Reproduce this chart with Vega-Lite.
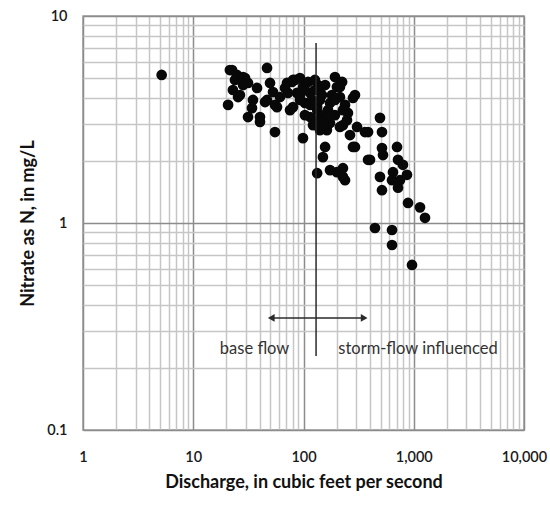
{
  "$schema": "https://vega.github.io/schema/vega-lite/v6.json",
  "width": 441,
  "height": 414,
  "autosize": {"type": "none"},
  "padding": {"left": 83, "top": 16, "right": 26, "bottom": 75},
  "background": "white",
  "config": {"view": {"stroke": "#9a9a9a", "strokeWidth": 1.5}, "font": "Lato"},
  "encoding": {
    "x": {
      "field": "Q", "type": "quantitative",
      "scale": {"type": "log", "domain": [1, 10000], "nice": false},
      "axis": {
        "title": "Discharge, in cubic feet per second",
        "values": [1,2,3,4,5,6,7,8,9,10,20,30,40,50,60,70,80,90,100,200,300,400,500,600,700,800,900,1000,2000,3000,4000,5000,6000,7000,8000,9000,10000],
        "format": ",",
        "labelExpr": "indexof([1,10,100,1000,10000], datum.value) >= 0 ? datum.label : ''",
        "grid": true, "ticks": false, "domain": false,
        "labelOverlap": false, "labelFlush": false, "labelBound": false,
        "labelPadding": 20, "labelFont": "Lato", "labelFontSize": 14.5, "labelFontWeight": 600, "labelColor": "#1a1a1a",
        "titleFont": "Lato", "titleFontSize": 18, "titleFontWeight": "bold", "titleColor": "#111", "titlePadding": 10,
        "gridColor": {"condition": {"test": "indexof([1,10,100,1000,10000], datum.value) >= 0", "value": "#8c8c8c"}, "value": "#c6c6c6"},
        "gridWidth": 1.5
      }
    },
    "y": {
      "field": "N", "type": "quantitative",
      "scale": {"type": "log", "domain": [0.1, 10], "nice": false},
      "axis": {
        "title": "Nitrate as N, in mg/L",
        "values": [0.1,0.2,0.3,0.4,0.5,0.6,0.7,0.8,0.9,1,2,3,4,5,6,7,8,9,10],
        "labelExpr": "datum.value == 0.1 ? '0.1' : datum.value == 1 ? '1' : datum.value == 10 ? '10' : ''",
        "grid": true, "ticks": false, "domain": false,
        "labelOverlap": false, "labelFlush": false, "labelBound": false,
        "labelPadding": 16, "labelFont": "Lato", "labelFontSize": 14.5, "labelFontWeight": 600, "labelColor": "#1a1a1a",
        "titleFont": "Lato", "titleFontSize": 18, "titleFontWeight": "bold", "titleColor": "#111", "titlePadding": 9,
        "gridColor": {"condition": {"test": "datum.value == 0.1 || datum.value == 1 || datum.value == 10", "value": "#8c8c8c"}, "value": "#c6c6c6"},
        "gridWidth": 1.5
      }
    }
  },
  "layer": [
    {
      "data": {"values": [
        {"Q": 5.17, "N": 5.19},
        {"Q": 21.5, "N": 5.48}, {"Q": 24.9, "N": 5.19}, {"Q": 28.3, "N": 5.07}, {"Q": 20.7, "N": 3.72},
        {"Q": 22.9, "N": 4.39}, {"Q": 26.5, "N": 4.15}, {"Q": 31.4, "N": 4.75}, {"Q": 37.9, "N": 4.49},
        {"Q": 34.8, "N": 3.93}, {"Q": 31.4, "N": 3.25}, {"Q": 40.3, "N": 3.08}, {"Q": 46.7, "N": 5.61},
        {"Q": 49.7, "N": 4.75}, {"Q": 46.7, "N": 3.93}, {"Q": 55.1, "N": 2.75}, {"Q": 57.5, "N": 3.63},
        {"Q": 75.5, "N": 3.51}, {"Q": 70.8, "N": 4.75}, {"Q": 80.3, "N": 4.91}, {"Q": 92.9, "N": 5.01},
        {"Q": 98.9, "N": 4.54}, {"Q": 87.3, "N": 4.25}, {"Q": 98.9, "N": 2.57}, {"Q": 110, "N": 4.8},
        {"Q": 115, "N": 4.25}, {"Q": 103, "N": 3.8}, {"Q": 127, "N": 4.39}, {"Q": 133, "N": 3.63},
        {"Q": 147, "N": 4.15}, {"Q": 150, "N": 3.25}, {"Q": 163, "N": 2.81}, {"Q": 174, "N": 3.8},
        {"Q": 193, "N": 5.07}, {"Q": 201, "N": 4.54}, {"Q": 214, "N": 4.06}, {"Q": 228, "N": 3.51},
        {"Q": 248, "N": 3.14}, {"Q": 281, "N": 4.02}, {"Q": 306, "N": 2.91}, {"Q": 224, "N": 4.8},
        {"Q": 281, "N": 2.33}, {"Q": 385, "N": 2.75}, {"Q": 494, "N": 3.22}, {"Q": 515, "N": 2.75},
        {"Q": 515, "N": 2.3}, {"Q": 401, "N": 2.02}, {"Q": 157, "N": 2.33}, {"Q": 150, "N": 2.08},
        {"Q": 133, "N": 1.74}, {"Q": 174, "N": 1.8}, {"Q": 201, "N": 1.76}, {"Q": 228, "N": 1.84},
        {"Q": 228, "N": 1.67}, {"Q": 494, "N": 1.67}, {"Q": 515, "N": 1.44}, {"Q": 238, "N": 1.61},
        {"Q": 293, "N": 2.33}, {"Q": 385, "N": 2.02}, {"Q": 526, "N": 2.13}, {"Q": 705, "N": 2.33},
        {"Q": 720, "N": 2.02}, {"Q": 798, "N": 1.91}, {"Q": 648, "N": 1.76}, {"Q": 635, "N": 1.61},
        {"Q": 750, "N": 1.61}, {"Q": 720, "N": 1.48}, {"Q": 868, "N": 1.71}, {"Q": 887, "N": 1.25},
        {"Q": 1140, "N": 1.19}, {"Q": 1265, "N": 1.06}, {"Q": 445, "N": 0.946}, {"Q": 635, "N": 0.925},
        {"Q": 635, "N": 0.783}, {"Q": 964, "N": 0.627},
        {"Q": 83.7, "N": 4.91}, {"Q": 80.3, "N": 3.63}, {"Q": 141, "N": 4.39}, {"Q": 133, "N": 3.51},
        {"Q": 163, "N": 3.4}, {"Q": 174, "N": 3.04}, {"Q": 214, "N": 2.91}, {"Q": 214, "N": 4.54},
        {"Q": 253, "N": 3.4}, {"Q": 293, "N": 4.15}, {"Q": 361, "N": 2.75}, {"Q": 115, "N": 3.25},
        {"Q": 150, "N": 2.91}, {"Q": 25.5, "N": 4.06}, {"Q": 34.1, "N": 3.59}, {"Q": 40.3, "N": 3.25},
        {"Q": 52.9, "N": 4.29}, {"Q": 44.8, "N": 3.84}, {"Q": 55.1, "N": 3.72}, {"Q": 61.2, "N": 4.06},
        {"Q": 78.6, "N": 4.8}, {"Q": 72.3, "N": 4.25}, {"Q": 28.3, "N": 4.64}, {"Q": 23.9, "N": 4.91},
        {"Q": 119, "N": 3.93}, {"Q": 135, "N": 3.14}, {"Q": 157, "N": 4.64}, {"Q": 181, "N": 4.15},
        {"Q": 193, "N": 3.32}, {"Q": 92.9, "N": 3.93}, {"Q": 68, "N": 4.49}, {"Q": 127, "N": 4.91},
        {"Q": 238, "N": 3.72}, {"Q": 264, "N": 2.66}, {"Q": 29.5, "N": 5.01}, {"Q": 22.5, "N": 5.48},
        {"Q": 103, "N": 3.32}, {"Q": 141, "N": 2.81},
        {"Q": 92.9, "N": 4.15}, {"Q": 115, "N": 3.72}, {"Q": 141, "N": 3.93}, {"Q": 167, "N": 3.51},
        {"Q": 193, "N": 3.93}, {"Q": 122, "N": 2.97}, {"Q": 174, "N": 3.32}, {"Q": 103, "N": 4.39},
        {"Q": 135, "N": 4.64}, {"Q": 228, "N": 2.97}
      ]},
      "mark": {"type": "point", "shape": "circle", "filled": true, "color": "#080808", "size": 115, "opacity": 1}
    },
    {
      "data": {"values": [{"Q": 130, "N": 0.228, "N2": 7.4}]},
      "mark": {"type": "rule", "color": "#2a2a2a", "strokeWidth": 1.5},
      "encoding": {"y2": {"field": "N2"}}
    },
    {
      "data": {"values": [{"Q": 50, "Q2": 361, "N": 0.348}]},
      "mark": {"type": "rule", "color": "#2a2a2a", "strokeWidth": 1.5},
      "encoding": {"x2": {"field": "Q2"}}
    },
    {
      "data": {"values": [{"Q": 51, "N": 0.348}]},
      "mark": {"type": "point", "shape": "triangle-left", "filled": true, "color": "#2a2a2a", "size": 60, "opacity": 1}
    },
    {
      "data": {"values": [{"Q": 355, "N": 0.348}]},
      "mark": {"type": "point", "shape": "triangle-right", "filled": true, "color": "#2a2a2a", "size": 60, "opacity": 1}
    },
    {
      "data": {"values": [
        {"Q": 36, "N": 0.246, "label": "base flow"},
        {"Q": 1093, "N": 0.246, "label": "storm-flow influenced"}
      ]},
      "mark": {"type": "text", "font": "Lato", "fontSize": 16.5, "color": "#333", "align": "center", "baseline": "middle"},
      "encoding": {"text": {"field": "label"}}
    }
  ]
}
